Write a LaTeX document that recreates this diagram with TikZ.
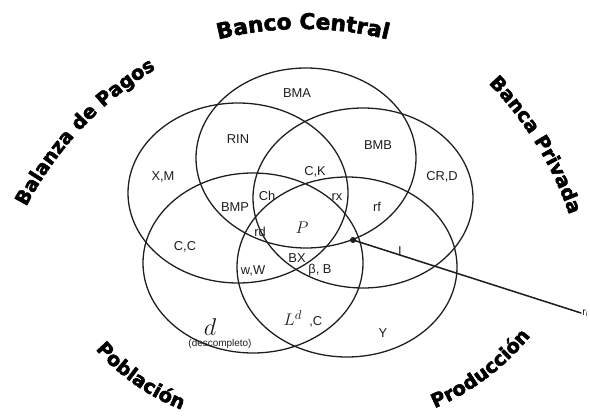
\documentclass[tikz,border=0pt]{standalone}
\usepackage{fontspec}
\setmainfont{Liberation Sans}
\newfontfamily\titlefont{DejaVu Sans}[BoldFeatures={FakeBold=2.5}]
\usetikzlibrary{decorations.text}
\definecolor{ink}{HTML}{1E1E1E}
\def\elx{110}
\def\ely{90}
\begin{document}
\begin{tikzpicture}[x=0.03cm, y=0.03cm, line cap=round, line join=round,
  conj/.style={ink, line width=1.1pt},
  lbl/.style={font=\fontsize{11}{11}\selectfont, text=ink, inner sep=0pt},
  mth/.style={text=ink, inner sep=0pt},
  titulo/.style 2 args={decorate, decoration={text along path, text align=center,
      text={|\titlefont\bfseries\fontsize{#1}{#1}\selectfont|#2}}}]
\useasboundingbox (0,0) rectangle (590,415);

% ================================================================ the five sets
\coordinate (bc)  at (306,257);
\coordinate (bp)  at (238,222);
\coordinate (bpr) at (363,217);
\coordinate (pob) at (253,152);
\coordinate (pro) at (347,148);
\foreach \c in {bc,bp,bpr,pob,pro}
  \draw[conj] (\c) ellipse[x radius=\elx, y radius=\ely];

% ================================================================ titles
\path[titulo={18.5}{Banco Central}]     (303,36) ++(115:350) arc[start angle=115, end angle=65, radius=350];
\path[titulo={16.5}{Balanza de Pagos}]  (336.5,46.3) ++(161.75:350) arc[start angle=161.75, end angle=111.75, radius=350];
\path[titulo={16.5}{Banca Privada}]     (238.1,87) ++(56.6:350) arc[start angle=56.6, end angle=6.6, radius=350];
\path[titulo={16.5}{Población}]         (261.1,210.5) ++(210:220) arc[start angle=210, end angle=260, radius=220];
\path[titulo={16.5}{Producción}]        (336.6,236.7) ++(282:250) arc[start angle=282, end angle=332, radius=250];

% ================================================================ regions
\node[lbl] (bma)  at (297,322) {BMA};
\node[lbl] (rin)  at (238,276) {RIN};
\node[lbl] (bmb)  at (378,270) {BMB};
\node[lbl] (xm)   at (163,238) {X,M};
\node[lbl] (ck)   at (315,243) {C,K};
\node[lbl] (crd)  at (442,238) {CR,D};
\node[lbl] (ch)   at (267,219) {Ch};
\node[lbl] (rx)   at (337,218) {rx};
\node[lbl] (rf)   at (377,208) {rf};
\node[lbl] (bmp)  at (235,208) {BMP};
\node[lbl] (rd)   at (260,183) {rd};
\node[mth, font=\fontsize{14}{14}\selectfont] (p) at (302,187) {$P$};
\node[lbl] (cc)   at (185,168) {C,C};
\node[lbl] (bx)   at (297,157) {BX};
\node[lbl] (bb)   at (320,145) {β, B};
\node[lbl] (ww)   at (253,144) {w,W};
\node[lbl] (ldc)  at (303,96)  {{\fontsize{15}{15}\selectfont$L^{d}$}\ \ ,C};
\node[mth, font=\fontsize{22}{22}\selectfont] (d) at (210,88) {$d$};
\node[lbl, font=\fontsize{8.5}{8.5}\selectfont] (desc) at (220,71) {(descompleto)};
\node[lbl] (y)    at (383,82)  {Y};
\node[lbl] (inv)  at (400,164) {I};

% ================================================================ the ray
\coordinate (pto)  at (353,175);
\coordinate (rfin) at (581,102);
\fill[ink] (pto) circle (3);
\draw[ink, line width=1.3pt] (pto) -- (rfin);
\node[lbl, font=\fontsize{9}{9}\selectfont, anchor=west, inner sep=1pt] (ri) at (rfin) {r\textsubscript{i}};

\end{tikzpicture}
\end{document}
